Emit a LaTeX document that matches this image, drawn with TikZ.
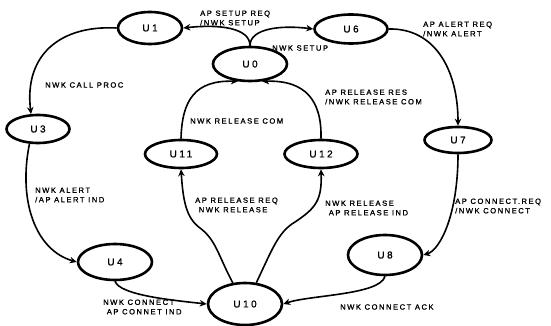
\documentclass[tikz,border=0pt]{standalone}
\usepackage{fontspec}
\usetikzlibrary{shapes.geometric,arrows.meta}
\newfontfamily\labfont[LetterSpace=20,FakeBold=1.2]{Liberation Sans}
\newfontfamily\statefont[LetterSpace=25,FakeBold=1.0]{Liberation Sans}
\tikzset{
  state/.style={ellipse, draw, line width=2.6pt, inner sep=0pt,
    font=\statefont\fontsize{10}{11}\selectfont},
  trans/.style={line width=1.6pt, -{Stealth[length=7pt,width=6.5pt]}},
  lab/.style={anchor=west, align=left, inner sep=0pt,
    font=\labfont\fontsize{7.6}{9.5}\selectfont},
}
\begin{document}
\begin{tikzpicture}[x=1pt,y=-1pt]
\useasboundingbox (0,0) rectangle (551,326);

% states
\node[state, minimum width=64pt, minimum height=32pt] (u1)  at (150,28)  {U1};
\node[state, minimum width=73pt, minimum height=29pt] (u6)  at (351,29)  {U6};
\node[state, minimum width=74pt, minimum height=34pt] (u0)  at (250,64)  {U0};
\node[state, minimum width=63pt, minimum height=28pt] (u3)  at (38,129)  {U3};
\node[state, minimum width=72pt, minimum height=28pt] (u11) at (181,154) {U11};
\node[state, minimum width=73pt, minimum height=28pt] (u12) at (321,154) {U12};
\node[state, minimum width=67pt, minimum height=26pt] (u7)  at (458,140) {U7};
\node[state, minimum width=74pt, minimum height=36pt] (u4)  at (115,262) {U4};
\node[state, minimum width=74pt, minimum height=40pt] (u8)  at (385,255) {U8};
\node[state, minimum width=74pt, minimum height=42pt] (u10) at (245,304) {U10};

% transitions
\draw[trans] (u0.north) .. controls (250,28) and (220,24) .. (u1.east);
\draw[trans] (u0.north) .. controls (250,28) and (282,25) .. (u6.west);
\draw[trans] (u1.west) .. controls (60,25) and (24,55) .. (u3.115);
\draw[trans] (u3.240) .. controls (18,200) and (35,250) .. (u4.west);
\draw[trans] (u4.south) .. controls (120,295) and (170,300) .. (u10.west);
\draw[trans] (u10.120) .. controls (218,255) and (216,240) .. (200,228)
                      .. controls (186,218) and (183,200) .. (u11.south);
\draw[trans] (u10.62) .. controls (272,250) and (278,232) .. (295,222)
                     .. controls (316,208) and (322,200) .. (u12.south);
\draw[trans] (u11.north) .. controls (182,100) and (195,80) .. (u0.235);
\draw[trans] (u12.north) .. controls (322,100) and (305,80) .. (u0.305);
\draw[trans] (u6.east) .. controls (435,28) and (458,70) .. (u7.north);
\draw[trans] (u7.south) .. controls (458,215) and (440,250) .. (u8.east);
\draw[trans] (u8.south) .. controls (380,295) and (310,295) .. (u10.east);

% transition labels
\node[lab] (l1)  at (200,18)  {AP SETUP REQ\\/NWK SETUP};
\node[lab] (l2)  at (272,48)  {NWK SETUP};
\node[lab] (l3)  at (423,29)  {AP ALERT REQ\\/NWK ALERT};
\node[lab] (l4)  at (45,85)   {NWK CALL PROC};
\node[lab] (l5)  at (325,97)  {AP RELEASE RES\\/NWK RELEASE COM};
\node[lab] (l6)  at (190,121) {NWK RELEASE COM};
\node[lab] (l7)  at (35,195)  {NWK ALERT\\/AP ALERT IND};
\node[lab] (l8)  at (195,205) {AP RELEASE REQ\\\ NWK RELEASE};
\node[lab] (l9)  at (325,208) {NWK RELEASE\\\ AP RELEASE IND};
\node[lab] (l10) at (455,206) {AP CONNECT.REQ\\/NWK CONNECT};
\node[lab] (l11) at (103,307) {NWK CONNECT\\\ AP CONNET IND};
\node[lab] (l12) at (340,307) {NWK CONNECT ACK};
\end{tikzpicture}
\end{document}
